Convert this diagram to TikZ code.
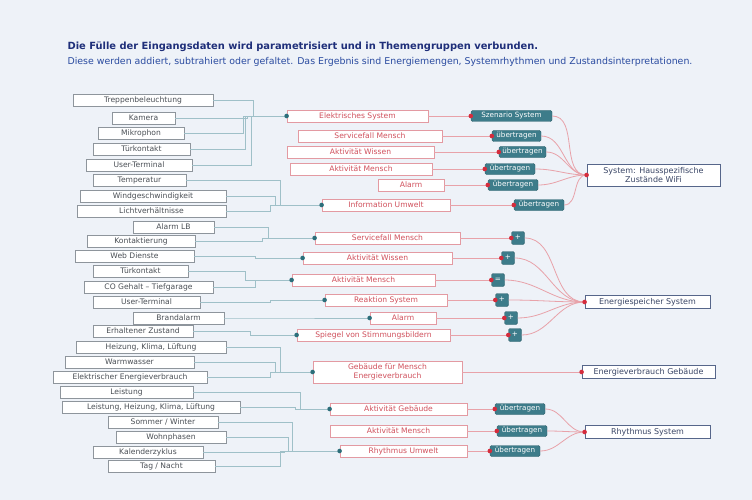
\documentclass[tikz,border=0pt]{standalone}
\usepackage{fontspec}
\setmainfont{DejaVu Sans}
\definecolor{bg}{HTML}{EEF2F8}
\definecolor{lgray}{HTML}{8E959C}
\definecolor{ltxt}{HTML}{4A4F55}
\definecolor{lln}{HTML}{9FC0C8}
\definecolor{tdot}{HTML}{2C6E7A}
\definecolor{mred}{HTML}{E39AA2}
\definecolor{mtxt}{HTML}{D0505C}
\definecolor{tealf}{HTML}{3D7C8A}
\definecolor{rblue}{HTML}{56668A}
\definecolor{rtxt}{HTML}{3A4666}
\definecolor{rln}{HTML}{E8A2A9}
\definecolor{rdot}{HTML}{D42C3C}
\definecolor{ttl}{HTML}{1F2F7A}
\definecolor{sub}{HTML}{2A4BA0}
\begin{document}
\begin{tikzpicture}[x=1pt,y=-1pt,
  lbox/.style={draw=lgray, fill=white, line width=0.9pt, minimum height=12pt, inner sep=0pt, text height=5.6pt, text depth=1.5pt, font=\fontsize{7.6}{8.5}\selectfont, text=ltxt},
  mbox/.style={draw=mred, fill=white, line width=0.8pt, minimum height=12pt, inner sep=0pt, font=\fontsize{7.6}{8.5}\selectfont, text=mtxt, align=center},
  mone/.style={mbox, text height=5.6pt, text depth=1.5pt},
  tbox/.style={fill=tealf, draw=tealf!80!black, line width=0.4pt, rounded corners=1.5pt, minimum height=11pt, inner sep=0pt, text height=5.2pt, text depth=1.4pt, text=white, font=\fontsize{7.2}{8}\selectfont},
  sbox/.style={tbox, minimum width=13pt, minimum height=13pt},
  rbox/.style={draw=rblue, fill=white, line width=0.8pt, minimum height=13pt, inner sep=0pt, font=\fontsize{8}{8.6}\selectfont, text=rtxt, align=center},
  rone/.style={rbox, text height=5.8pt, text depth=1.6pt},
  lline/.style={draw=lln, line width=0.7pt},
  rline/.style={draw=rln, line width=0.8pt},
  tdotst/.style={fill=tdot},
  rdotst/.style={fill=rdot}
  ]
\fill[bg] (0,0) rectangle (752,500);
\useasboundingbox (0,0) rectangle (752,500);

\node[anchor=west, font=\bfseries\fontsize{9.9}{12}\selectfont, text=ttl] (title) at (64,47) {Die Fülle der Eingangsdaten wird parametrisiert und in Themengruppen verbunden.};
\node[anchor=west, font=\fontsize{9.4}{11}\selectfont, text=sub] (subtitle) at (64,62) {Diese werden addiert, subtrahiert oder gefaltet. Das Ergebnis sind Energiemengen, Systemrhythmen und Zustandsinterpretationen.};

% left column
\node[lbox, minimum width=140pt] (l1) at (143,100) {Treppenbeleuchtung};
\node[lbox, minimum width=63pt] (l2) at (143.5,118) {Kamera};
\node[lbox, minimum width=86pt] (l3) at (141,133) {Mikrophon};
\node[lbox, minimum width=97pt] (l4) at (141.5,149) {Türkontakt};
\node[lbox, minimum width=106pt] (l5) at (139,165) {User-Terminal};
\node[lbox, minimum width=93pt] (l6) at (139.5,180) {Temperatur};
\node[lbox, minimum width=146pt] (l7) at (153,196) {Windgeschwindigkeit};
\node[lbox, minimum width=149pt] (l8) at (151.5,211) {Lichtverhältnisse};
\node[lbox, minimum width=81pt] (l9) at (173.5,227) {Alarm LB};
\node[lbox, minimum width=108pt] (l10) at (141,241) {Kontaktierung};
\node[lbox, minimum width=119pt] (l11) at (134.5,256) {Web Dienste};
\node[lbox, minimum width=95pt] (l12) at (140.5,271) {Türkontakt};
\node[lbox, minimum width=129pt] (l13) at (148.5,287) {CO Gehalt – Tiefgarage};
\node[lbox, minimum width=107pt] (l14) at (146.5,302) {User-Terminal};
\node[lbox, minimum width=91pt] (l15) at (178.5,318) {Brandalarm};
\node[lbox, minimum width=100pt] (l16) at (143,331) {Erhaltener Zustand};
\node[lbox, minimum width=150pt] (l17) at (151,347) {Heizung, Klima, Lüftung};
\node[lbox, minimum width=129pt] (l18) at (129.5,362) {Warmwasser};
\node[lbox, minimum width=154pt] (l19) at (130,377) {Elektrischer Energieverbrauch};
\node[lbox, minimum width=133pt] (l20) at (126.5,392) {Leistung};
\node[lbox, minimum width=178pt] (l21) at (151,407) {Leistung, Heizung, Klima, Lüftung};
\node[lbox, minimum width=110pt] (l22) at (163,422) {Sommer / Winter};
\node[lbox, minimum width=110pt] (l23) at (171,437) {Wohnphasen};
\node[lbox, minimum width=110pt] (l24) at (148,452) {Kalenderzyklus};
\node[lbox, minimum width=107pt] (l25) at (161.5,466) {Tag / Nacht};

% middle column
\node[mone, minimum width=141pt] (m1) at (357.5,116) {Elektrisches System};
\node[mone, minimum width=144pt] (m2) at (370,136) {Servicefall Mensch};
\node[mone, minimum width=147pt] (m3) at (360.5,152) {Aktivität Wissen};
\node[mone, minimum width=142pt] (m4) at (361,169) {Aktivität Mensch};
\node[mone, minimum width=66pt] (m5) at (411,185) {Alarm};
\node[mone, minimum width=128pt] (m6) at (386,205) {Information Umwelt};
\node[mone, minimum width=145pt] (m7) at (387.5,238) {Servicefall Mensch};
\node[mone, minimum width=149pt] (m8) at (377.5,258) {Aktivität Wissen};
\node[mone, minimum width=143pt] (m9) at (363.5,280) {Aktivität Mensch};
\node[mone, minimum width=122pt] (m10) at (386,300) {Reaktion System};
\node[mone, minimum width=66pt] (m11) at (403,318) {Alarm};
\node[mone, minimum width=153pt] (m12) at (373.5,335) {Spiegel von Stimmungsbildern};
\node[mbox, minimum width=149pt, minimum height=22pt] (m13) at (387.5,372) {Gebäude für Mensch\\Energieverbrauch};
\node[mone, minimum width=137pt] (m14) at (398.5,409) {Aktivität Gebäude};
\node[mone, minimum width=137pt] (m15) at (398.5,431) {Aktivität Mensch};
\node[mone, minimum width=127pt] (m16) at (403.5,451) {Rhythmus Umwelt};

% teal boxes
\node[tbox, minimum width=81pt] (t1) at (511.5,116) {Szenario System};
\node[tbox, minimum width=49pt] (t2) at (516.5,136) {übertragen};
\node[tbox, minimum width=47pt] (t3) at (522.5,152) {übertragen};
\node[tbox, minimum width=50pt] (t4) at (510,169) {übertragen};
\node[tbox, minimum width=50pt] (t5) at (513,185) {übertragen};
\node[tbox, minimum width=50pt] (t6) at (539,205) {übertragen};
\node[sbox] (t7) at (518,238) {+};
\node[sbox] (t8) at (508,258) {+};
\node[sbox] (t9) at (498,280) {=};
\node[sbox] (t10) at (502,300) {+};
\node[sbox] (t11) at (511,318) {+};
\node[sbox] (t12) at (515,335) {+};
\node[tbox, minimum width=50pt] (t13) at (520,409) {übertragen};
\node[tbox, minimum width=50pt] (t14) at (522,431) {übertragen};
\node[tbox, minimum width=50pt] (t15) at (515,451) {übertragen};

% right column
\node[rbox, minimum width=133pt, minimum height=22pt] (r1) at (653.5,175) {System: Hausspezifische\\Zustände WiFi};
\node[rone, minimum width=125pt] (r2) at (647.5,302) {Energiespeicher System};
\node[rone, minimum width=133pt] (r3) at (648.5,372) {Energieverbrauch Gebäude};
\node[rone, minimum width=125pt] (r4) at (647.5,432) {Rhythmus System};

% left -> middle connectors
\draw[lline] (l1.east) -- ++(40,0) |- (m1.west);
\draw[lline] (l2.east) -- ++(72,0) |- (m1.west);
\draw[lline] (l3.east) -- ++(59,0) |- (m1.west);
\draw[lline] (l4.east) -- ++(55,0) |- (m1.west);
\draw[lline] (l5.east) -- ++(59,0) |- (m1.west);
\draw[lline] (l6.east) -- ++(94,0) |- (m6.west);
\draw[lline] (l7.east) -- ++(49,0) |- (m6.west);
\draw[lline] (l8.east) -- ++(44,0) |- (m6.west);
\draw[lline] (l9.east) -- ++(54,0) |- (m7.west);
\draw[lline] (l10.east) -- ++(67,0) |- (m7.west);
\draw[lline] (l11.east) -- ++(61,0) |- (m8.west);
\draw[lline] (l12.east) -- ++(57,0) |- (m9.west);
\draw[lline] (l13.east) -- ++(42,0) |- (m9.west);
\draw[lline] (l14.east) -- ++(70,0) |- (m10.west);
\draw[lline] (l15.east) -- ++(36,0) |- (m11.west);
\draw[lline] (l16.east) -- ++(57,0) |- (m12.west);
\draw[lline] (l17.east) -- ++(54,0) |- (m13.west);
\draw[lline] (l18.east) -- ++(81,0) |- (m13.west);
\draw[lline] (l19.east) -- ++(63,0) |- (m13.west);
\draw[lline] (l20.east) -- ++(107,0) |- (m14.west);
\draw[lline] (l21.east) -- ++(55,0) |- (m14.west);
\draw[lline] (l22.east) -- ++(74,0) |- (m16.west);
\draw[lline] (l23.east) -- ++(62,0) |- (m16.west);
\draw[lline] (l24.east) -- ++(81,0) |- (m16.west);
\draw[lline] (l25.east) -- ++(65,0) |- (m16.west);
\foreach \m in {m1,m6,m7,m8,m9,m10,m11,m12,m13,m14,m16}
  \fill[tdotst] (\m.west) circle (2.3pt);

% middle -> teal
\foreach \m/\t in {m1/t1,m2/t2,m3/t3,m4/t4,m5/t5,m6/t6,m7/t7,m8/t8,m9/t9,m10/t10,m11/t11,m12/t12,m14/t13,m15/t14,m16/t15}
  \draw[rline] (\m.east) -- (\t.west);
\draw[rline] (m13.east) -- (r3.west);

% teal -> right
\foreach \t in {t1,t2,t3,t4,t5,t6}
  \draw[rline] (\t.east) to[out=0,in=180] (r1.west);
\foreach \t in {t7,t8,t9,t10,t11,t12}
  \draw[rline] (\t.east) to[out=0,in=180] (r2.west);
\foreach \t in {t13,t14,t15}
  \draw[rline] (\t.east) to[out=0,in=180] (r4.west);

\foreach \t in {t1,t2,t3,t4,t5,t6,t7,t8,t9,t10,t11,t12,t13,t14,t15,r1,r2,r3,r4}
  \fill[rdotst] (\t.west) circle (2.3pt);
\end{tikzpicture}
\end{document}
